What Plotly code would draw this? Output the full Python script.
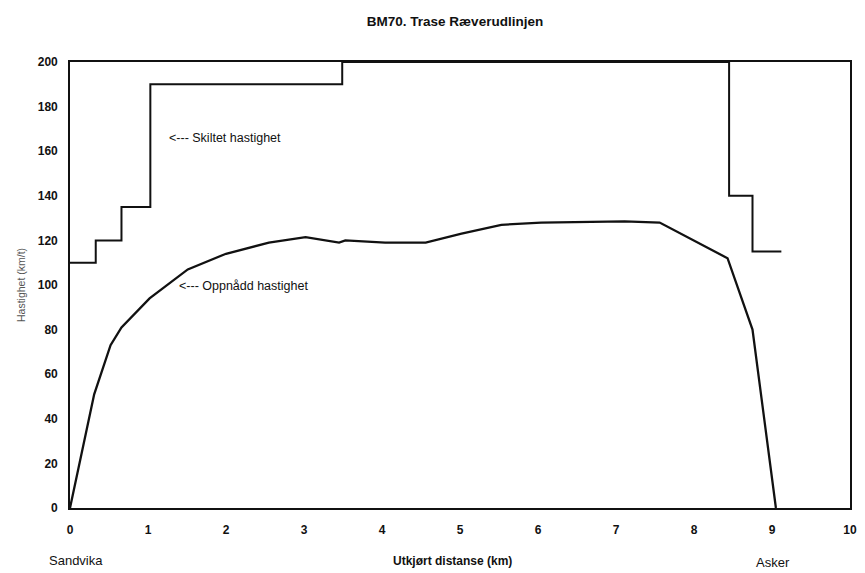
import plotly.graph_objects as go

# Posted speed limit (step line), km from Sandvika vs km/t
posted_km = [0, 0.33, 0.66, 1.03, 3.49, 8.45, 8.75, 9.12]
posted_speed = [110, 120, 135, 190, 200, 140, 115, 115]

# Achieved speed along the line
achieved_km = [0, 0.31, 0.52, 0.66, 1.02, 1.51, 2.0, 2.55, 3.02, 3.45, 3.53,
               4.04, 4.56, 5.02, 5.53, 6.04, 7.11, 7.56, 8.43, 8.75, 9.05]
achieved_speed = [0, 51, 73, 81, 94, 107, 114, 119, 121.5, 119, 120,
                  119, 119, 123, 127, 128, 128.5, 128, 112, 80, 0]

x_ticks = list(range(0, 11))
y_ticks = list(range(0, 201, 20))

FONT = "Liberation Sans, Arial, sans-serif"

fig = go.Figure()
fig.add_trace(go.Scatter(
    x=posted_km, y=posted_speed, mode="lines", line_shape="hv",
    line=dict(color="#111111", width=2), showlegend=False, cliponaxis=False))
fig.add_trace(go.Scatter(
    x=achieved_km, y=achieved_speed, mode="lines",
    line=dict(color="#111111", width=2.3), showlegend=False, cliponaxis=False))

W, H = 865, 573
L, R, T, B = 70, 8, 62, 65
pw, ph = W - L - R, H - T - B

fig.update_layout(
    width=W, height=H,
    margin=dict(l=L, r=R, t=T, b=B),
    paper_bgcolor="white", plot_bgcolor="white",
    font=dict(family=FONT, color="#111111"),
    title=dict(text="<b>BM70. Trase Ræverudlinjen</b>", x=0.526, xanchor="center",
               y=0.963, yanchor="middle", font=dict(size=13.5, family=FONT)),
    xaxis=dict(range=[0, 10], tickvals=x_ticks, ticks="", showgrid=False,
               zeroline=False, showline=True, linecolor="#111111", linewidth=1.6,
               mirror=True, tickfont=dict(size=12, weight="bold"), ticklabelstandoff=10),
    yaxis=dict(range=[0, 200], tickvals=y_ticks, ticks="", showgrid=False,
               zeroline=False, showline=True, linecolor="#111111", linewidth=1.6,
               mirror=True, tickfont=dict(size=12, weight="bold"), ticklabelstandoff=8,
               title=dict(text="Hastighet (km/t)", font=dict(size=10.5, color="#555555"),
                          standoff=10)),
)

# Text labels placed by pixel position, converted to paper coordinates
labels = [
    ("<--- Skiltet hastighet", 168, 138, "left", 12.5),
    ("<--- Oppnådd hastighet", 178, 286, "left", 12.5),
    ("Sandvika", 47, 560, "left", 13),
    ("<b>Utkjørt distanse (km)</b>", 456, 561, "center", 12),
    ("Asker", 779, 562, "center", 13),
]
for text, px, py, anchor, size in labels:
    fig.add_annotation(
        x=(px - L) / pw, y=(H - B - py) / ph, xref="paper", yref="paper",
        text=text, showarrow=False, xanchor=anchor, yanchor="middle",
        font=dict(size=size, color="#111111"))

fig.write_html("out.html")
